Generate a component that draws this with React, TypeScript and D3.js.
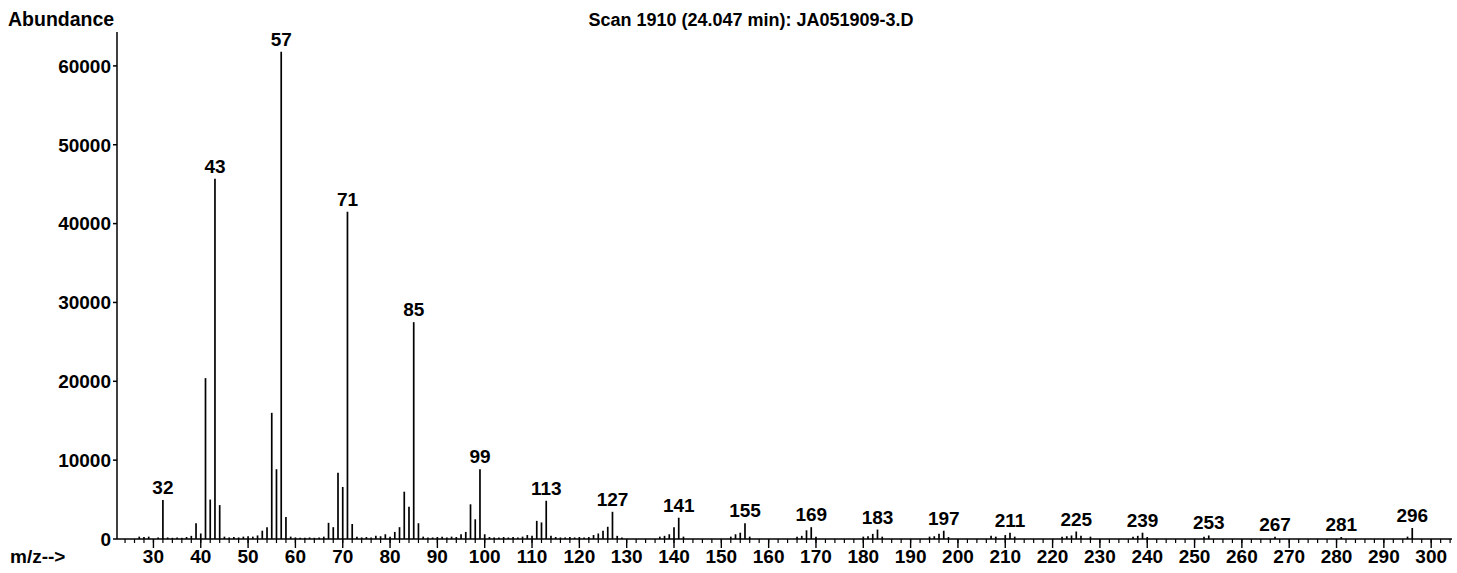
import React from "react";
import * as d3 from "d3";

// ---- Data ----
const mzValues: number[] = [
  27, 28, 29, 31, 32, 33, 34, 35, 36, 37, 38, 39, 40, 41, 42, 43, 44, 45, 46, 47, 48, 49, 50, 51, 52, 53, 54, 55, 56, 57, 58,
  59, 60, 61, 62, 63, 64, 65, 66, 67, 68, 69, 70, 71, 72, 73, 74, 75, 76, 77, 78, 79, 80, 81, 82, 83, 84, 85, 86,
  87, 88, 89, 90, 91, 92, 93, 94, 95, 96, 97, 98, 99, 100, 101, 102, 103, 104, 105, 106, 107, 108, 109, 110, 111, 112, 113,
  114, 115, 116, 117, 118, 119, 120, 121, 122, 123, 124, 125, 126, 127, 128, 129, 137, 138, 139, 140, 141, 142,
  152, 153, 154, 155, 156, 166, 167, 168, 169, 170, 180, 181, 182, 183, 184, 194, 195, 196, 197, 198,
  207, 208, 210, 211, 212, 222, 223, 224, 225, 226, 228, 237, 238, 239, 240, 252, 253, 267, 281, 295, 296,
];
const abundanceValues: number[] = [
  300, 250, 300, 200, 4950, 200, 150, 200, 150, 250, 400, 2000, 700, 20400, 5000, 45700, 4300, 300, 200, 250, 200, 300, 350, 300, 450, 1050, 1500, 16000, 8850, 61800, 2800,
  300, 200, 150, 150, 200, 150, 200, 300, 2050, 1500, 8400, 6600, 41500, 1900, 300, 200, 250, 200, 400, 350, 600, 300, 900, 1500, 6000, 4100, 27500, 2000,
  300, 200, 200, 250, 300, 200, 300, 250, 600, 900, 4400, 2500, 8850, 600, 250, 200, 200, 250, 200, 250, 200, 300, 500, 400, 2300, 2100, 4850,
  400, 250, 200, 200, 250, 200, 250, 200, 250, 500, 700, 1050, 1550, 3450, 400, 200, 300, 400, 600, 1500, 2700, 300,
  300, 600, 800, 2000, 300, 300, 400, 1100, 1500, 300, 300, 350, 650, 1200, 300, 300, 350, 650, 1050, 250,
  400, 300, 500, 800, 300, 300, 350, 450, 950, 400, 300, 300, 400, 800, 250, 300, 450, 300, 250, 300, 1400,
];
const labeledMz: number[] = [32, 43, 57, 71, 85, 99, 113, 127, 141, 155, 169, 183, 197, 211, 225, 239, 253, 267, 281, 296];
const yTickValues: number[] = [0, 10000, 20000, 30000, 40000, 50000, 60000];
const xMajorTicks: number[] = d3.range(30, 301, 10);
const xMinorTicks: number[] = d3.range(24, 305, 2);

const titleText = "Scan 1910 (24.047 min): JA051909-3.D";
const yAxisTitle = "Abundance";
const xAxisTitle = "m/z-->";

const W = 1457;
const H = 573;
const FONT = "'Liberation Sans', Arial, Helvetica, sans-serif";

export default function App() {
  const x = d3.scaleLinear().domain([22.3, 304.4]).range([117, 1452]);
  const y = d3.scaleLinear().domain([0, 64300]).range([539, 32]);
  const peaks = mzValues.map((m, i) => ({ mz: m, ab: abundanceValues[i] }));
  const labelPeaks = labeledMz.map((m) => peaks.find((p) => p.mz === m) || { mz: m, ab: 0 });
  const y0 = y(0);
  const xl = x.range()[0];

  return (
    <svg
      width={W}
      height={H}
      style={{ position: "absolute", left: 0, top: 0, background: "#fff" }}
      fontFamily={FONT}
      fontWeight="bold"
      fontSize={19}
    >
      <rect x={0} y={0} width={W} height={H} fill="#fff" />
      {/* titles */}
      <text x={8} y={26} fill="#000" fontSize={19.5}>{yAxisTitle}</text>
      <text x={751} y={26} textAnchor="middle" fill="#000" fontSize={18}>{titleText}</text>
      <text x={10} y={563} fill="#000" fontSize={19}>{xAxisTitle}</text>

      {/* y axis */}
      <line x1={xl} x2={xl} y1={y.range()[1]} y2={y0} stroke="#000" strokeWidth={1.5} />
      {yTickValues.map((t) => (
        <g key={"yt" + t}>
          <line x1={xl - 4} x2={xl} y1={y(t)} y2={y(t)} stroke="#000" strokeWidth={1.5} />
          <text x={xl - 6} y={y(t)} dy="0.36em" textAnchor="end" fill="#000">{t}</text>
        </g>
      ))}

      {/* x axis */}
      <line x1={xl} x2={x.range()[1]} y1={y0} y2={y0} stroke="#000" strokeWidth={1.5} />
      {xMinorTicks.map((t) => (
        <line key={"mn" + t} x1={x(t)} x2={x(t)} y1={y0} y2={y0 + 4} stroke="#000" strokeWidth={1.2} />
      ))}
      {xMajorTicks.map((t) => (
        <g key={"mj" + t}>
          <line x1={x(t)} x2={x(t)} y1={y0} y2={y0 + 9} stroke="#000" strokeWidth={1.4} />
          <text x={x(t)} y={563} textAnchor="middle" fill="#000">{t}</text>
        </g>
      ))}

      {/* peaks */}
      {peaks.map((p) => (
        <line key={"pk" + p.mz} x1={x(p.mz)} x2={x(p.mz)} y1={y0} y2={y(p.ab)} stroke="#000" strokeWidth={1.7} />
      ))}

      {/* peak labels */}
      {labelPeaks.map((p) => (
        <text key={"lb" + p.mz} x={x(p.mz)} y={y(p.ab) - 6} textAnchor="middle" fill="#000">{p.mz}</text>
      ))}
    </svg>
  );
}
